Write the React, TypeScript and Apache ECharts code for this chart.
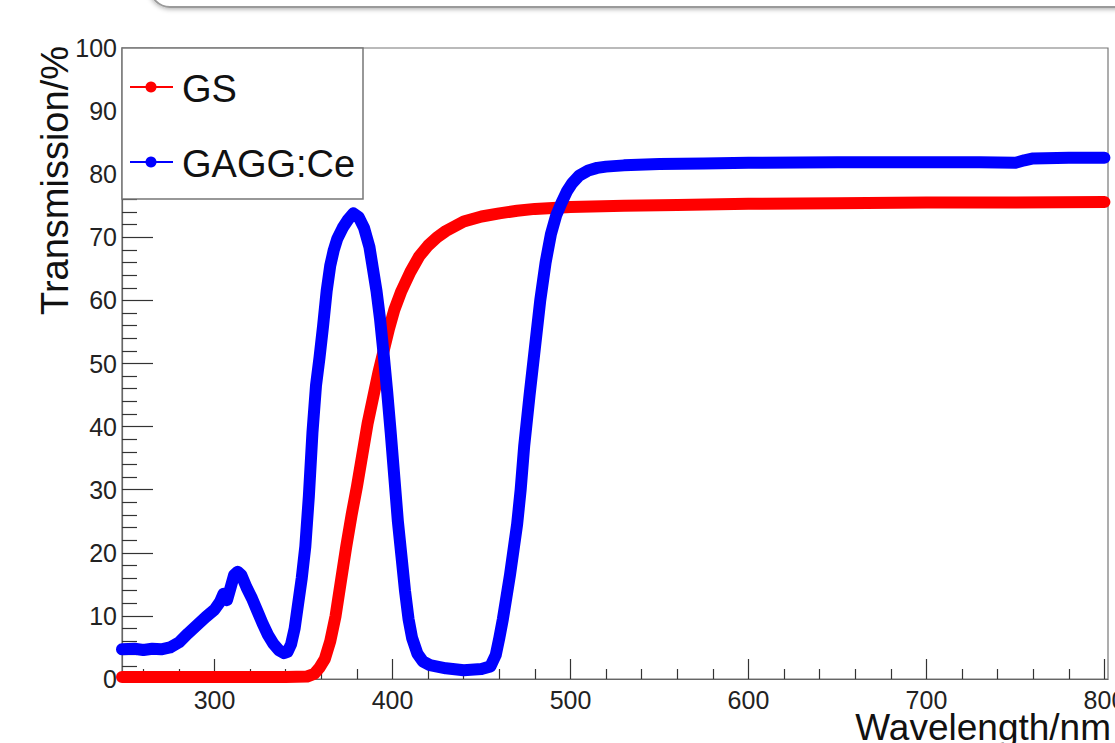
import React, { useEffect, useRef } from "react";
import * as echarts from "echarts";

const SERIES_NAMES = ["GS", "GAGG:Ce"];
const X_MAJOR_TICKS = [300, 400, 500, 600, 700, 800];
const X_MINOR_TICKS = [260, 280, 320, 340, 360, 380, 420, 440, 460, 480, 520, 540, 560, 580, 620, 640, 660, 680, 720, 740, 760, 780];
const X_TITLE = "Wavelength/nm";
const Y_TITLE = "Transmission/%";

const GS_DATA: [number, number][] = [
  [248, 0.3], [260, 0.3], [280, 0.3], [300, 0.3], [320, 0.3], [340, 0.3], [352, 0.4], [356, 0.8],
  [359, 1.8], [362, 3.2], [365, 6], [368, 10], [371, 15.5], [374, 21], [377, 26], [380, 30.5],
  [383, 35.5], [386, 40.5], [389, 44.5], [392, 48.5], [395, 52], [398, 55.5], [401, 58.5],
  [405, 61.5], [410, 64.5], [415, 67], [420, 68.7], [425, 70], [430, 71], [440, 72.5],
  [450, 73.3], [460, 73.8], [470, 74.2], [480, 74.5], [500, 74.8], [530, 75], [560, 75.1],
  [600, 75.3], [650, 75.4], [700, 75.5], [750, 75.5], [800, 75.6],
];

const GAGG_DATA: [number, number][] = [
  [248, 4.7], [255, 4.8], [260, 4.6], [265, 4.8], [270, 4.7], [275, 5], [280, 5.8], [285, 7.2],
  [290, 8.5], [295, 9.8], [300, 11], [303, 12.2], [305, 13.5], [307, 12.5], [309, 14.5],
  [311, 16.5], [313, 17], [315, 16.5], [318, 14.5], [321, 12.8], [324, 10.8], [327, 8.8],
  [330, 7], [333, 5.6], [336, 4.6], [339, 4.1], [341, 4.3], [343, 5.5], [345, 8], [347, 12],
  [349, 16], [351, 21], [353, 29], [355, 39], [357, 46.5], [359, 51], [361, 56], [363, 61.5],
  [365, 65.5], [367, 68], [369, 69.8], [372, 71.5], [375, 72.8], [378, 73.8], [381, 73.2],
  [384, 71.5], [387, 68.5], [389, 65], [391, 61.5], [393, 57], [395, 51.5], [397, 45.5],
  [399, 39], [401, 32], [403, 25], [405, 19.5], [407, 14], [409, 9.5], [411, 6.5], [414, 4],
  [417, 2.8], [421, 2.2], [430, 1.7], [440, 1.4], [450, 1.6], [455, 2], [458, 3.8], [460, 6.5],
  [462, 9.5], [464, 13], [466, 16.5], [468, 20.5], [470, 24.5], [472, 30], [474, 37], [477, 45],
  [480, 52.5], [483, 60], [486, 66], [489, 70.5], [492, 73.5], [495, 75.5], [498, 77.3],
  [501, 78.6], [505, 79.8], [510, 80.6], [515, 81], [520, 81.2], [530, 81.4], [550, 81.6],
  [575, 81.7], [600, 81.8], [650, 81.9], [700, 81.9], [730, 81.9], [750, 81.8], [755, 82.2],
  [760, 82.5], [780, 82.6], [800, 82.6],
];

const COLORS = ["#ff0000", "#0000ff"];
const FONT = "'Liberation Sans', Arial, Helvetica, sans-serif";

export default function App() {
  const ref = useRef<HTMLDivElement>(null);
  useEffect(() => {
    if (!ref.current) return;
    const chart = echarts.init(ref.current, undefined, { renderer: "svg" });
    const legendItems: any[] = [];
    SERIES_NAMES.forEach((name, i) => {
      const cy = i === 0 ? 87 : 162;
      legendItems.push(
        { type: "line", shape: { x1: 130, y1: cy, x2: 173, y2: cy }, style: { stroke: COLORS[i], lineWidth: 2 } },
        { type: "circle", shape: { cx: 151, cy, r: 5.5 }, style: { fill: COLORS[i] } },
        {
          type: "text",
          x: 182,
          y: cy + 2,
          style: { text: name, font: `38px ${FONT}`, fill: "#111", verticalAlign: "middle", align: "left" },
        }
      );
    });
    chart.setOption({
      animation: false,
      backgroundColor: "#ffffff",
      grid: {
        left: 122, right: 7, top: 48, bottom: 64,
        containLabel: false, outerBoundsMode: "none",
        show: true, borderColor: "#777", borderWidth: 1.2,
      },
      xAxis: [
        {
          type: "value",
          min: 248,
          max: 802,
          axisLine: { show: true, lineStyle: { color: "#666", width: 1.2 } },
          axisTick: { show: true, inside: true, length: 20, customValues: X_MAJOR_TICKS, lineStyle: { color: "#333", width: 1.2 } },
          axisLabel: { show: true, customValues: X_MAJOR_TICKS, margin: 8, color: "#222", fontSize: 25, fontFamily: FONT },
          splitLine: { show: false },
        },
        {
          type: "value",
          min: 248,
          max: 802,
          position: "bottom",
          axisLine: { show: false },
          axisTick: { show: true, inside: true, length: 10, customValues: X_MINOR_TICKS, lineStyle: { color: "#333", width: 1.2 } },
          axisLabel: { show: false },
          splitLine: { show: false },
        },
      ],
      yAxis: {
        type: "value",
        min: 0,
        max: 100,
        interval: 10,
        axisLine: { show: true, lineStyle: { color: "#666", width: 1.2 } },
        axisTick: { show: true, inside: true, length: 31, lineStyle: { color: "#333", width: 1.2 } },
        minorTick: { show: true, splitNumber: 5, length: 15, lineStyle: { color: "#333", width: 1.2 } },
        axisLabel: { margin: 5, color: "#222", fontSize: 25, fontFamily: FONT },
        splitLine: { show: false },
      },
      series: [
        {
          name: SERIES_NAMES[0],
          type: "line",
          data: GS_DATA,
          showSymbol: false,
          symbol: "none",
          clip: false,
          lineStyle: { color: COLORS[0], width: 12, cap: "round", join: "round" },
          z: 2,
        },
        {
          name: SERIES_NAMES[1],
          type: "line",
          data: GAGG_DATA,
          showSymbol: false,
          symbol: "none",
          clip: false,
          lineStyle: { color: COLORS[1], width: 12, cap: "round", join: "round" },
          z: 3,
        },
      ],
      graphic: [
        {
          type: "rect",
          shape: { x: 150, y: -40, width: 1010, height: 47, r: 20 },
          style: { fill: "#fff", stroke: "#9a9a9a", lineWidth: 2, shadowBlur: 5, shadowColor: "rgba(0,0,0,0.35)", shadowOffsetY: 1 },
          z: 10,
        },
        {
          type: "rect",
          shape: { x: 122, y: 48, width: 241, height: 151 },
          style: { fill: "#fff", stroke: "#777", lineWidth: 1.5 },
          z: 10,
        },
        ...legendItems.map((it) => ({ ...it, z: 11 })),
        {
          type: "text",
          x: 55,
          y: 46,
          rotation: Math.PI / 2,
          style: { text: Y_TITLE, font: `38px ${FONT}`, fill: "#111", align: "right", verticalAlign: "middle" },
          z: 10,
        },
        {
          type: "text",
          x: 1111,
          y: 727,
          style: { text: X_TITLE, font: `37px ${FONT}`, fill: "#111", align: "right", verticalAlign: "middle" },
          z: 10,
        },
      ],
    });
    return () => chart.dispose();
  }, []);
  return <div ref={ref} style={{ position: "fixed", left: 0, top: 0, width: 1115, height: 743 }} />;
}
